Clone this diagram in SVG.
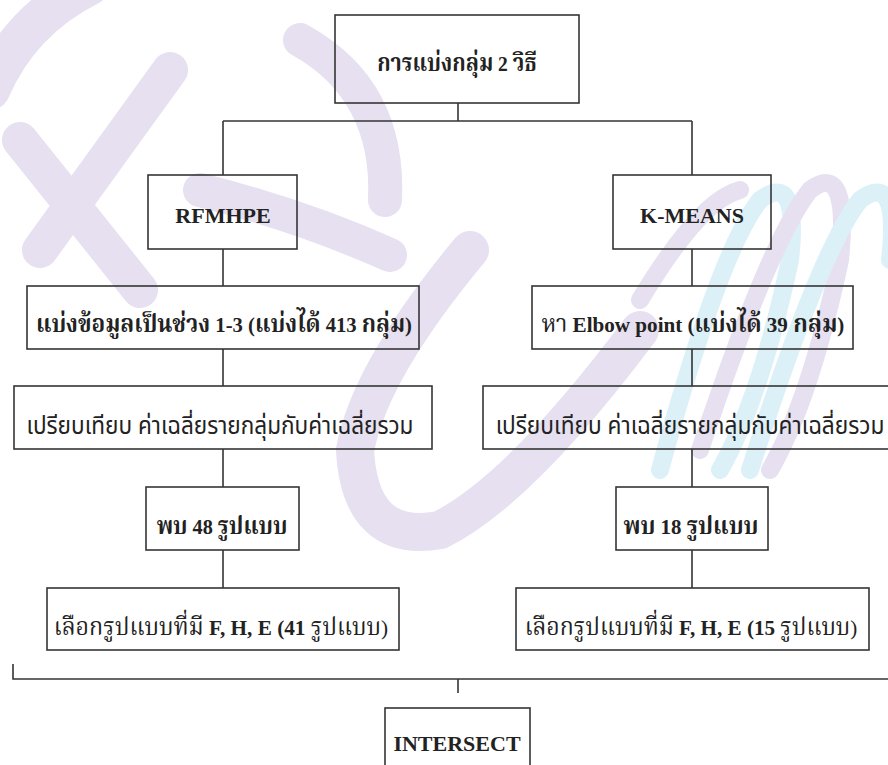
<svg xmlns="http://www.w3.org/2000/svg" width="888" height="765" viewBox="0 0 888 765">
  <style>
    .box { fill: none; stroke: #353535; stroke-width: 1.6; }
    .wire { fill: none; stroke: #353535; stroke-width: 1.6; }
    .t { fill: #222; font-size: 22px; text-anchor: middle; font-family: "Liberation Serif", "Noto Serif Thai", "Noto Sans Thai", "Tlwg Typo", serif; }
    .b { font-weight: bold; }
    .th { font-size: 24px; }
    .s { font-family: "Noto Sans Thai", "Tlwg Typist", "Liberation Sans", sans-serif; }
    .wm-p { fill: none; stroke: #e6e0f0; stroke-linecap: round; }
    .wm-c { fill: none; stroke: #dcf0f8; stroke-linecap: round; }
  </style>
  <rect width="888" height="765" fill="#ffffff"/>

  <!-- faint background emblem -->
  <g id="emblem">
    <path class="wm-p" stroke-width="40" d="M-10,90 Q20,20 90,-15"/>
    <path class="wm-p" stroke-width="36" d="M20,140 L140,290"/>
    <path class="wm-p" stroke-width="36" d="M170,70 L40,250"/>
    <path class="wm-p" stroke-width="34" d="M200,190 Q300,215 390,255"/>
    <path class="wm-p" stroke-width="34" d="M300,40 Q390,90 385,200"/>
    <path class="wm-p" stroke-width="38" d="M470,250 Q370,370 355,450 Q360,545 440,530 Q520,490 640,330"/>
    <path class="wm-c" stroke-width="18" d="M660,470 Q720,250 760,200 Q800,170 790,260 Q760,400 720,470"/>
    <path class="wm-p" stroke-width="18" d="M700,450 Q770,240 810,190 Q850,160 840,260 Q810,400 770,470"/>
    <path class="wm-c" stroke-width="18" d="M750,470 Q820,250 860,200 Q900,170 890,260"/>
    <path class="wm-p" stroke-width="18" d="M640,300 Q700,200 740,190"/>
  </g>

  <g id="connectors">
    <path class="wire" d="M458,103 V121 M223,121 H692 M223,121 V175 M692,121 V175"/>
    <path class="wire" d="M223,249 V286 M223,349 V386 M223,449 V487 M223,550 V588"/>
    <path class="wire" d="M692,249 V286 M692,349 V386 M692,449 V487 M692,550 V588"/>
    <path class="wire" d="M13,664 V679 H888 M458,679 V693"/>
  </g>

  <!-- Thai-heavy labels are narrowed about their centre with matrix(s,0,0,1,cx*(1-s),0) -->
  <g id="n-root">
    <rect class="box" x="335" y="15" width="244" height="88"/>
    <text class="t b" x="457" y="71" transform="matrix(0.89,0,0,1,50.3,0)"><tspan class="th">การแบ่งกลุ่ม</tspan> <tspan>2</tspan> <tspan class="th">วิธี</tspan></text>
  </g>
  <g id="n-rfmhpe">
    <rect class="box" x="148" y="175" width="149" height="74"/>
    <text class="t b" x="223" y="223">RFMHPE</text>
  </g>
  <g id="n-kmeans">
    <rect class="box" x="613" y="175" width="158" height="74"/>
    <text class="t b" x="692" y="223">K-MEANS</text>
  </g>
  <g id="n-split">
    <rect class="box" x="27" y="286" width="392" height="63"/>
    <text class="t b" x="224" y="332" transform="matrix(0.94,0,0,1,13.4,0)"><tspan class="th">แบ่งข้อมูลเป็นช่วง</tspan> <tspan>1-3</tspan>  <tspan>(<tspan class="th">แบ่งได้</tspan></tspan> <tspan>413</tspan> <tspan><tspan class="th">กลุ่ม</tspan>)</tspan></text>
  </g>
  <g id="n-elbow">
    <rect class="box" x="532" y="286" width="321" height="63"/>
    <text class="t" x="693" y="332" transform="matrix(0.96,0,0,1,27.7,0)"><tspan class="th">หา</tspan> <tspan class="b">Elbow</tspan> <tspan class="b">point</tspan> <tspan class="b">(<tspan class="th">แบ่งได้</tspan></tspan> <tspan class="b">39</tspan> <tspan class="b"><tspan class="th">กลุ่ม</tspan>)</tspan></text>
  </g>
  <g id="n-compare-l">
    <rect class="box" x="14" y="386" width="418" height="63"/>
    <text class="t s th" x="220" y="434" transform="matrix(0.94,0,0,1,13.2,0)"><tspan>เปรียบเทียบ</tspan> <tspan>ค่าเฉลี่ยรายกลุ่มกับค่าเฉลี่ยรวม</tspan></text>
  </g>
  <g id="n-compare-r">
    <rect class="box" x="483" y="386" width="410" height="63"/>
    <text class="t s th" x="690" y="434" transform="matrix(0.945,0,0,1,37.95,0)"><tspan>เปรียบเทียบ</tspan> <tspan>ค่าเฉลี่ยรายกลุ่มกับค่าเฉลี่ยรวม</tspan></text>
  </g>
  <g id="n-found-l">
    <rect class="box" x="146" y="487" width="153" height="63"/>
    <text class="t b" x="222" y="534" transform="matrix(0.92,0,0,1,17.76,0)"><tspan class="th">พบ</tspan> <tspan>48</tspan> <tspan class="th">รูปแบบ</tspan></text>
  </g>
  <g id="n-found-r">
    <rect class="box" x="616" y="487" width="152" height="63"/>
    <text class="t b" x="691" y="534" transform="matrix(0.95,0,0,1,34.55,0)"><tspan class="th">พบ</tspan> <tspan>18</tspan> <tspan class="th">รูปแบบ</tspan></text>
  </g>
  <g id="n-select-l">
    <rect class="box" x="47" y="588" width="352" height="62"/>
    <text class="t" x="221" y="635" transform="matrix(0.965,0,0,1,7.7,0)"><tspan class="th">เลือกรูปแบบที่มี</tspan> <tspan class="b">F,</tspan> <tspan class="b">H,</tspan> <tspan class="b">E</tspan> <tspan class="b">(41</tspan> <tspan><tspan class="th">รูปแบบ</tspan>)</tspan></text>
  </g>
  <g id="n-select-r">
    <rect class="box" x="516" y="588" width="353" height="62"/>
    <text class="t" x="691" y="635" transform="matrix(0.96,0,0,1,27.6,0)"><tspan class="th">เลือกรูปแบบที่มี</tspan> <tspan class="b">F,</tspan> <tspan class="b">H,</tspan> <tspan class="b">E</tspan> <tspan class="b">(15</tspan> <tspan><tspan class="th">รูปแบบ</tspan>)</tspan></text>
  </g>
  <g id="n-intersect">
    <rect class="box" x="385" y="708" width="145" height="70"/>
    <text class="t b" x="457" y="751">INTERSECT</text>
  </g>
</svg>
